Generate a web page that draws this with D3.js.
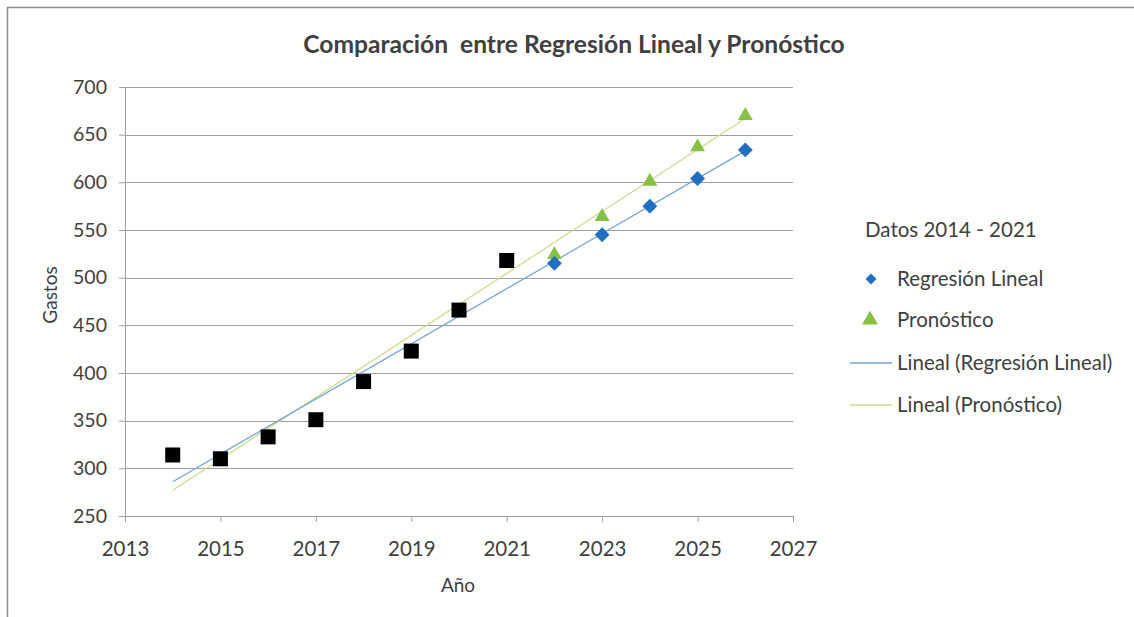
<!DOCTYPE html>
<html>
<head>
<meta charset="utf-8">
<script src="https://cdn.jsdelivr.net/npm/d3@7"></script>
<style>
  body { margin: 0; background: #fff; }
  text { font-family: Lato, "Open Sans", sans-serif; fill: #404040; }
</style>
</head>
<body>
<div id="chart"></div>
<script>
// Datos 2014 - 2021 (gastos reales)
const years = [2014, 2015, 2016, 2017, 2018, 2019, 2020, 2021];
const gastos = [314, 310, 333, 351, 391, 423, 466, 518];

// Proyección 2022 - 2026
const projYears = [2022, 2023, 2024, 2025, 2026];
const regresion = [515, 545, 575, 604, 634];
const pronostico = [524, 564, 601, 637, 670];

// Líneas de tendencia (extremos)
const trendYears = [2014, 2026];
const regTrend = [286, 633];
const pronTrend = [277, 667];

const xTicks = [2013, 2015, 2017, 2019, 2021, 2023, 2025, 2027];
const yTicks = [250, 300, 350, 400, 450, 500, 550, 600, 650, 700];

const width = 1134;
const height = 617;

const svg = d3.select("#chart")
  .append("svg")
  .attr("width", width)
  .attr("height", height);

// marco del gráfico
svg.append("rect")
  .attr("x", 7.5)
  .attr("y", 7.5)
  .attr("width", 1200)
  .attr("height", 700)
  .attr("fill", "none")
  .attr("stroke", "#8a8a8a")
  .attr("stroke-width", 1.5);

const x = d3.scaleLinear().domain([2013, 2027]).range([125, 793]);
const y = d3.scaleLinear().domain([250, 700]).range([516, 87]);

// gridlines
svg.append("g")
  .selectAll("line")
  .data(yTicks)
  .join("line")
  .attr("x1", x(2013))
  .attr("x2", x(2027))
  .attr("y1", d => Math.round(y(d)) + 0.5)
  .attr("y2", d => Math.round(y(d)) + 0.5)
  .attr("stroke", "#a0a0a0")
  .attr("stroke-width", 1);

// eje Y
const yAxis = svg.append("g")
  .attr("transform", `translate(${x(2013)},0)`)
  .call(d3.axisLeft(y).tickValues(yTicks).tickSize(6).tickPadding(12));
yAxis.select(".domain").attr("stroke", "#a0a0a0");
yAxis.selectAll(".tick line").attr("stroke", "#a0a0a0");
yAxis.selectAll(".tick text")
  .attr("font-family", "Lato, sans-serif")
  .attr("font-size", 19.5)
  .attr("fill", "#404040");

// eje X
const xAxis = svg.append("g")
  .attr("transform", `translate(0,${y(250)})`)
  .call(d3.axisBottom(x).tickValues(xTicks).tickFormat(d3.format("d")).tickSize(6).tickPadding(19));
xAxis.select(".domain").attr("stroke", "#a0a0a0");
xAxis.selectAll(".tick line").attr("stroke", "#a0a0a0");
xAxis.selectAll(".tick text")
  .attr("font-family", "Lato, sans-serif")
  .attr("font-size", 20.5)
  .attr("fill", "#404040");

// líneas de tendencia
const line = d3.line().x(d => x(d[0])).y(d => y(d[1]));

svg.append("path")
  .datum(trendYears.map((t, i) => [t, pronTrend[i]]))
  .attr("d", line)
  .attr("fill", "none")
  .attr("stroke", "#c8dc8c")
  .attr("stroke-width", 1.2);

svg.append("path")
  .datum(trendYears.map((t, i) => [t, regTrend[i]]))
  .attr("d", line)
  .attr("fill", "none")
  .attr("stroke", "#76a3d4")
  .attr("stroke-width", 1.2);

// datos reales: cuadrados negros
svg.append("g")
  .selectAll("path")
  .data(years.map((t, i) => [t, gastos[i]]))
  .join("path")
  .attr("transform", d => `translate(${x(d[0])},${y(d[1])})`)
  .attr("d", d3.symbol(d3.symbolSquare, 225))
  .attr("fill", "#000");

// pronóstico: triángulos verdes
svg.append("g")
  .selectAll("path")
  .data(projYears.map((t, i) => [t, pronostico[i]]))
  .join("path")
  .attr("transform", d => `translate(${x(d[0])},${y(d[1])})`)
  .attr("d", d3.symbol(d3.symbolTriangle, 95))
  .attr("fill", "#86c044");

// regresión: rombos azules
svg.append("g")
  .selectAll("path")
  .data(projYears.map((t, i) => [t, regresion[i]]))
  .join("path")
  .attr("transform", d => `translate(${x(d[0])},${y(d[1])}) rotate(45)`)
  .attr("d", d3.symbol(d3.symbolSquare, 110))
  .attr("fill", "#1f6fc3");

// título
svg.append("text")
  .attr("x", 574)
  .attr("y", 53)
  .attr("text-anchor", "middle")
  .attr("font-size", 24.6)
  .attr("font-weight", "bold")
  .attr("fill", "#1a1a1a")
  .style("white-space", "pre")
  .text("Comparación  entre Regresión Lineal y Pronóstico");

// títulos de ejes
svg.append("text")
  .attr("transform", "translate(57,295) rotate(-90)")
  .attr("text-anchor", "middle")
  .attr("font-size", 19)
  .attr("fill", "#404040")
  .text("Gastos");

svg.append("text")
  .attr("x", 458)
  .attr("y", 592)
  .attr("text-anchor", "middle")
  .attr("font-size", 19)
  .attr("fill", "#404040")
  .text("Año");

// leyenda
svg.append("text")
  .attr("x", 865)
  .attr("y", 237)
  .attr("font-size", 20.5)
  .attr("fill", "#1f1f1f")
  .text("Datos 2014 - 2021");

const legendItems = [
  { label: "Regresión Lineal", type: "diamond", y: 279 },
  { label: "Pronóstico", type: "triangle", y: 320 },
  { label: "Lineal (Regresión Lineal)", type: "blueline", y: 363 },
  { label: "Lineal (Pronóstico)", type: "greenline", y: 405 }
];

const legend = svg.append("g");
legendItems.forEach(item => {
  if (item.type === "diamond") {
    legend.append("path")
      .attr("transform", `translate(871,${item.y}) rotate(45)`)
      .attr("d", d3.symbol(d3.symbolSquare, 60))
      .attr("fill", "#1f6fc3");
  } else if (item.type === "triangle") {
    legend.append("path")
      .attr("transform", `translate(870,${item.y})`)
      .attr("d", d3.symbol(d3.symbolTriangle, 110))
      .attr("fill", "#86c044");
  } else {
    legend.append("line")
      .attr("x1", 850)
      .attr("x2", 892)
      .attr("y1", item.y)
      .attr("y2", item.y)
      .attr("stroke", item.type === "blueline" ? "#76a3d4" : "#c8dc8c")
      .attr("stroke-width", 1.5);
  }
  legend.append("text")
    .attr("x", 897)
    .attr("y", item.y)
    .attr("dy", "0.35em")
    .attr("font-size", 20.5)
    .attr("fill", "#404040")
    .text(item.label);
});
</script>
</body>
</html>
